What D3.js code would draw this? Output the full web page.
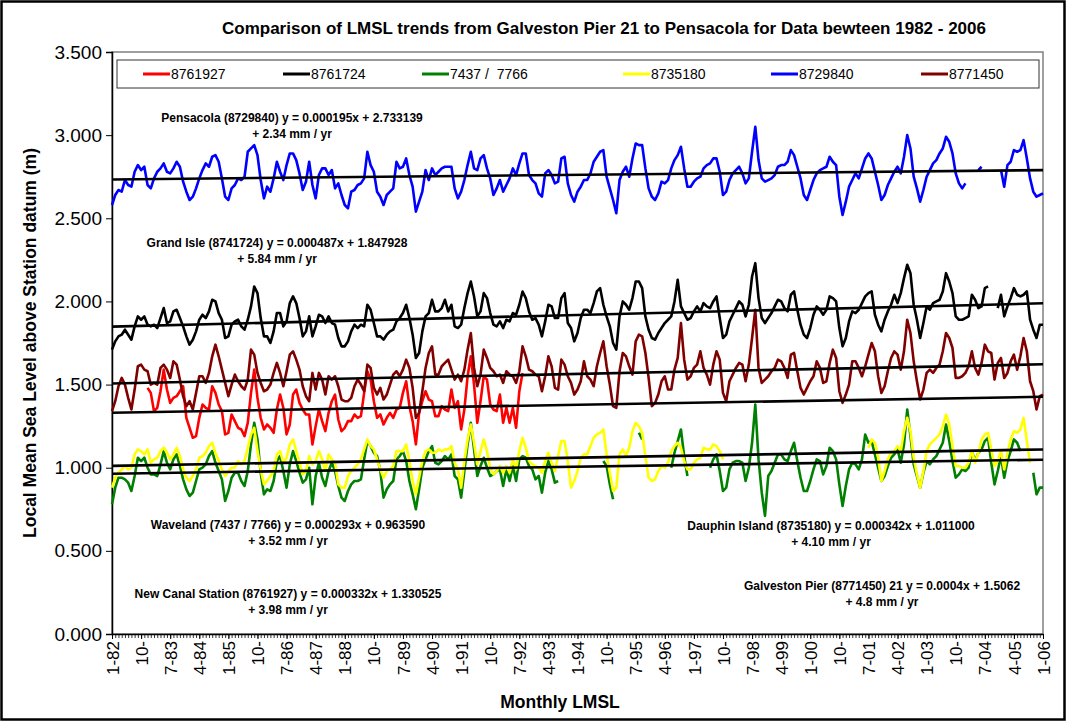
<!DOCTYPE html>
<html>
<head>
<meta charset="utf-8">
<script src="https://cdn.jsdelivr.net/npm/d3@7"></script>
<style>
  html, body { margin: 0; padding: 0; background: #fff; }
  svg { display: block; font-family: "Liberation Sans", Arial, sans-serif; }
</style>
</head>
<body>
<svg id="chart" width="1066" height="721"></svg>
<script>
const _ = null;

// ---------- DATA ----------
const seriesNames = ["8761927", "8761724", "7437 /  7766", "8735180", "8729840", "8771450"];
const seriesColors = ["#FF0000", "#000000", "#008000", "#FFFF00", "#0000FF", "#800000"];

const yTickValues = [0, 0.5, 1.0, 1.5, 2.0, 2.5, 3.0, 3.5];

const xTickLabels = ["1-82","10-","7-83","4-84","1-85","10-","7-86","4-87","1-88","10-","7-89","4-90",
  "1-91","10-","7-92","4-93","1-94","10-","7-95","4-96","1-97","10-","7-98","4-99","1-00","10-",
  "7-01","4-02","1-03","10-","7-04","4-05","1-06"];
const xTickLabelIndex = [0,9,18,27,36,45,54,63,72,81,90,99,108,117,126,135,144,153,162,171,180,189,
  198,207,216,225,234,243,252,261,270,279,288];

// New Canal Station (8761927) - monthly, Jan 1982 .. Jan 2006
const s8761927 = [
  _,_,_,_,_,_,_,_,_,_,_,1.48,
  1.45,1.34,1.36,1.46,1.59,1.47,1.39,1.42,1.43,1.46,1.49,1.30,
  1.24,1.18,1.19,1.30,1.38,1.36,1.35,1.49,1.45,1.38,1.34,1.20,
  1.21,1.32,1.28,1.24,1.23,1.19,1.27,1.45,1.59,1.42,1.30,1.23,
  1.26,1.24,1.21,1.35,1.44,1.36,1.20,1.26,1.44,1.47,1.39,1.35,
  1.32,1.32,1.14,1.25,1.35,1.28,1.22,1.33,1.40,1.44,1.29,1.22,
  1.24,1.28,1.28,1.32,1.30,1.31,1.45,1.58,1.53,1.40,1.30,1.32,
  1.26,1.30,1.33,1.30,1.35,1.36,1.45,1.52,1.37,1.28,1.14,1.33,
  1.40,1.46,1.41,1.40,1.31,1.31,1.37,1.35,1.34,1.47,1.36,1.40,
  1.23,1.35,1.55,1.67,1.50,1.27,1.40,1.55,1.53,1.38,1.35,1.34,
  1.44,1.27,1.36,1.27,1.36,1.24,1.46,1.57,_,_,_,_,
  _,_,_,_,_,_,_,_,_,_,_,_,
  _,_,_,_,_,_,_,_,_,_,_,_,
  _,_,_,_,_,_,_,_,_,_,_,_,
  _,_,_,_,_,_,_,_,_,_,_,_,
  _,_,_,_,_,_,_,_,_,_,_,_,
  _,_,_,_,_,_,_,_,_,_,_,_,
  _,_,_,_,_,_,_,_,_,_,_,_,
  _,_,_,_,_,_,_,_,_,_,_,_,
  _,_,_,_,_,_,_,_,_,_,_,_,
  _,_,_,_,_,_,_,_,_,_,_,_,
  _,_,_,_,_,_,_,_,_,_,_,_,
  _,_,_,_,_,_,_,_,_,_,_,_,
  _,_,_,_,_,_,_,_,_,_,_,_,
  _
];

// Grand Isle (8761724)
const s8761724 = [
  1.71,1.76,1.79,1.80,1.83,1.80,1.77,1.85,1.91,1.89,1.91,1.86,
  1.85,1.86,1.84,1.90,1.96,1.87,1.88,1.94,1.95,1.90,1.85,1.79,
  1.74,1.77,1.82,1.89,1.92,1.90,1.94,2.01,2.00,1.93,1.89,1.78,
  1.79,1.86,1.88,1.89,1.85,1.83,1.89,1.97,2.09,2.05,1.90,1.79,
  1.79,1.75,1.82,1.93,1.93,1.85,1.88,1.99,2.03,1.99,1.90,1.79,
  1.82,1.91,1.79,1.85,1.92,1.91,1.87,1.91,1.87,1.86,1.78,1.73,
  1.73,1.76,1.82,1.86,1.84,1.86,1.85,1.98,1.95,1.87,1.79,1.79,
  1.77,1.80,1.82,1.83,1.88,1.90,1.93,1.98,1.90,1.80,1.66,1.69,
  1.82,1.91,1.93,2.01,1.94,1.94,1.96,2.01,1.94,1.98,1.85,1.84,
  1.86,1.96,2.05,2.12,2.03,1.91,1.94,2.05,2.02,1.93,1.86,1.85,
  1.88,1.84,1.89,1.88,1.93,1.92,1.98,2.06,2.02,1.94,1.89,1.90,
  1.86,1.79,1.88,1.98,1.97,1.90,1.90,2.02,2.05,1.87,1.84,1.76,
  1.81,1.90,1.95,1.95,1.93,1.99,2.06,2.08,1.98,1.91,1.85,1.75,
  1.71,1.91,2.00,1.98,1.95,2.02,2.12,2.12,2.08,1.91,1.83,1.78,
  1.77,1.81,1.84,1.87,1.89,1.91,2.00,2.13,1.97,1.93,1.89,1.90,
  1.94,1.97,1.94,1.99,1.97,1.96,2.00,2.03,1.90,1.78,1.80,1.88,
  1.92,1.96,2.00,1.98,1.91,1.98,2.15,2.23,2.02,1.90,1.87,1.90,
  1.93,1.97,2.01,2.00,1.96,1.94,2.04,2.06,1.95,1.86,1.80,1.78,
  1.84,1.92,1.97,1.95,1.92,1.95,2.03,2.02,2.00,1.84,1.73,1.78,
  1.88,1.94,1.93,1.95,1.99,2.03,2.05,2.06,1.92,1.86,1.82,1.89,
  1.94,1.98,2.04,1.99,2.05,2.14,2.22,2.17,1.98,1.89,1.78,1.87,
  1.97,1.95,1.99,2.00,2.01,2.06,2.17,2.12,2.05,1.91,1.89,1.89,
  1.90,1.91,2.04,2.01,1.96,1.97,2.08,2.09,_,_,1.96,2.04,
  1.91,1.97,2.02,2.08,2.04,2.03,2.04,2.06,1.89,1.83,1.78,1.86,
  1.86
];

// Waveland (7437 / 7766)
const s7437_7766 = [
  0.78,0.88,0.94,0.94,0.93,0.91,0.86,0.95,1.06,1.04,1.06,1.00,
  0.96,0.96,0.95,1.02,1.10,1.03,0.99,1.05,1.08,1.01,0.93,0.87,
  0.83,0.85,0.92,0.99,1.00,1.02,1.07,1.10,1.03,0.98,0.93,0.80,
  0.86,0.94,0.97,0.97,0.92,0.89,0.98,1.14,1.27,1.17,0.97,0.84,
  0.87,0.86,0.92,1.04,1.07,0.98,0.88,1.02,1.10,1.04,0.97,0.91,
  0.93,1.00,0.78,0.95,1.03,0.94,0.89,0.98,1.03,0.98,0.89,0.82,
  0.80,0.86,0.90,0.92,0.92,0.93,1.05,1.16,1.13,1.09,1.07,0.98,
  0.82,0.87,0.90,0.92,1.05,1.07,1.10,1.04,0.92,0.84,0.75,0.87,
  1.00,1.05,1.10,1.13,1.03,1.02,1.04,1.07,1.05,1.08,0.95,0.93,
  0.82,0.98,1.14,1.27,1.11,0.95,1.01,1.06,1.00,0.95,0.96,0.98,
  0.99,0.89,0.99,0.92,1.01,0.92,1.05,1.07,1.06,1.01,0.99,0.93,
  0.95,0.85,0.97,1.04,0.99,0.91,0.92,_,_,_,_,_,
  _,_,_,_,_,_,_,_,1.04,1.01,0.90,0.81,
  _,_,_,_,_,_,_,1.21,1.17,_,_,_,
  _,_,_,_,_,1.00,1.09,1.16,1.23,1.07,0.95,_,
  _,_,_,_,_,1.00,1.05,1.08,0.98,0.86,0.88,0.99,
  1.03,1.04,1.04,1.03,0.92,1.00,1.15,1.38,1.05,0.85,0.71,0.95,
  0.98,1.03,1.08,1.08,1.05,1.04,1.10,1.15,1.04,0.94,0.86,0.86,
  0.92,0.99,1.05,1.04,0.96,1.01,1.12,1.10,1.05,0.90,0.77,0.89,
  0.99,1.03,1.02,0.99,1.05,1.20,1.15,1.16,1.08,1.00,0.92,0.95,
  1.01,1.06,1.08,1.11,1.03,1.14,1.35,1.19,1.02,0.95,0.88,0.97,
  1.04,1.02,1.05,1.07,1.11,1.15,1.26,1.16,1.04,0.94,0.96,0.99,
  0.98,1.00,1.10,1.04,1.09,1.11,1.16,1.18,1.03,0.90,0.98,1.07,
  0.94,1.04,1.10,1.17,1.15,1.10,_,_,_,0.97,0.84,0.88,
  0.88
];

// Dauphin Island (8735180)
const s8735180 = [
  0.88,0.94,0.97,0.99,1.01,0.99,1.00,1.08,1.11,1.10,1.08,1.11,
  1.03,1.05,1.06,1.10,1.12,1.09,1.05,1.08,1.12,1.07,0.99,0.94,
  0.92,0.95,0.99,1.06,1.07,1.09,1.13,1.15,1.09,1.04,0.99,0.95,
  0.98,1.00,1.00,1.04,1.02,1.04,1.12,1.20,1.24,1.10,0.99,0.90,
  0.92,0.95,0.98,1.08,1.10,1.03,1.06,1.14,1.17,1.10,1.03,0.96,
  0.98,1.07,1.02,1.04,1.10,1.05,0.98,1.08,1.05,1.03,0.90,0.88,
  0.88,0.95,0.98,1.00,1.02,1.05,1.11,1.17,1.13,1.11,1.05,0.99,
  0.94,0.98,0.99,1.01,1.10,1.10,1.10,1.14,1.04,0.92,0.84,0.94,
  1.04,1.10,1.11,1.09,1.09,1.11,1.10,1.11,1.11,1.13,1.03,0.99,
  0.88,1.04,1.17,1.26,1.15,1.02,1.10,1.17,1.10,1.00,0.96,0.98,
  1.01,0.97,1.01,0.97,1.05,0.99,1.10,1.18,1.12,1.04,1.02,1.01,
  1.00,0.97,1.04,1.09,1.03,0.98,1.07,1.16,1.16,1.04,0.88,0.92,
  0.98,1.06,1.08,1.08,1.13,1.18,1.20,1.21,1.23,1.08,0.97,0.86,
  0.88,1.08,1.11,1.07,1.12,1.22,1.27,1.25,1.21,1.07,0.94,0.92,
  0.93,0.98,1.01,1.00,1.03,1.10,1.13,1.15,1.12,1.04,0.99,0.99,
  1.03,1.05,1.06,1.12,1.11,1.11,1.14,1.13,1.10,1.05,_,_,
  _,_,_,_,_,_,_,_,_,_,_,_,
  _,_,_,_,_,_,_,_,_,_,_,_,
  _,_,_,_,_,_,_,_,_,_,_,_,
  _,_,_,_,_,_,1.12,1.17,1.15,1.06,0.92,0.98,
  1.05,1.09,1.10,1.13,1.10,1.22,1.30,1.22,1.06,0.96,0.88,0.98,
  1.10,1.14,1.16,1.18,1.20,1.25,1.32,1.26,1.13,1.01,1.01,1.00,
  1.00,1.03,1.10,1.03,1.09,1.17,1.20,1.21,1.11,1.01,1.04,1.10,
  0.99,1.09,1.17,1.22,1.21,1.23,1.30,1.16,1.03,_,_,_,
  _
];

// Pensacola (8729840)
const s8729840 = [
  2.58,2.64,2.67,2.66,2.73,2.70,2.69,2.78,2.82,2.79,2.81,2.70,
  2.68,2.74,2.78,2.80,2.83,2.78,2.77,2.80,2.84,2.81,2.72,2.66,
  2.61,2.63,2.68,2.74,2.79,2.83,2.81,2.87,2.88,2.84,2.74,2.63,
  2.61,2.68,2.70,2.74,2.73,2.75,2.90,2.92,2.94,2.88,2.73,2.62,
  2.69,2.66,2.74,2.84,2.78,2.73,2.82,2.89,2.89,2.85,2.77,2.67,
  2.72,2.84,2.70,2.62,2.76,2.80,2.80,2.76,2.79,2.68,2.71,2.64,
  2.58,2.56,2.66,2.67,2.70,2.71,2.74,2.90,2.82,2.78,2.66,2.63,
  2.58,2.64,2.66,2.68,2.84,2.80,2.81,2.86,2.76,2.69,2.54,2.60,
  2.66,2.79,2.73,2.80,2.76,2.78,2.80,2.81,2.81,2.81,2.68,2.62,
  2.66,2.73,2.82,2.90,2.80,2.79,2.86,2.88,2.80,2.74,2.64,2.68,
  2.73,2.66,2.70,2.74,2.80,2.76,2.83,2.89,2.89,2.76,2.73,2.71,
  2.65,2.63,2.77,2.79,2.76,2.71,2.72,2.86,2.87,2.71,2.64,2.60,
  2.66,2.69,2.73,2.73,2.77,2.84,2.87,2.90,2.91,2.75,2.68,2.61,
  2.53,2.73,2.78,2.81,2.75,2.86,2.95,2.94,2.94,2.80,2.68,2.63,
  2.61,2.65,2.72,2.71,2.73,2.80,2.85,2.88,2.93,2.80,2.69,2.69,
  2.72,2.74,2.75,2.80,2.82,2.83,2.86,2.86,2.78,2.64,2.66,2.73,
  2.77,2.79,2.81,2.77,2.71,2.74,2.90,3.05,2.85,2.74,2.72,2.73,
  2.74,2.76,2.81,2.82,2.82,2.84,2.91,2.88,2.81,2.74,2.64,2.61,
  2.67,2.73,2.77,2.79,2.80,2.81,2.87,2.84,2.82,2.63,2.52,2.60,
  2.69,2.73,2.77,2.74,2.80,2.86,2.89,2.86,2.78,2.70,2.61,2.64,
  2.70,2.74,2.78,2.81,2.77,2.87,3.00,2.92,2.75,2.68,2.60,2.67,
  2.75,2.79,2.83,2.85,2.89,2.92,2.99,2.96,2.89,2.77,2.71,2.68,
  2.71,_,_,_,2.79,2.81,_,_,_,_,_,2.79,
  2.69,2.82,2.84,2.91,2.90,2.91,2.97,2.86,2.74,2.66,2.63,2.64,
  2.65
];

// Galveston Pier 21 (8771450)
const s8771450 = [
  1.34,1.40,1.49,1.54,1.50,1.42,1.35,1.47,1.61,1.62,1.59,1.58,
  1.50,1.51,1.50,1.60,1.62,1.59,1.54,1.64,1.62,1.53,1.43,1.37,
  1.40,1.35,1.45,1.55,1.55,1.51,1.57,1.67,1.74,1.67,1.59,1.51,
  1.43,1.50,1.56,1.52,1.49,1.47,1.53,1.71,1.68,1.57,1.51,1.46,
  1.47,1.50,1.57,1.63,1.57,1.49,1.58,1.68,1.70,1.65,1.59,1.49,
  1.43,1.40,1.57,1.47,1.57,1.53,1.44,1.55,1.53,1.55,1.49,1.41,
  1.40,1.40,1.42,1.49,1.53,1.50,1.46,1.62,1.60,1.48,1.44,1.48,
  1.41,1.44,1.50,1.56,1.58,1.55,1.59,1.65,1.60,1.48,1.30,1.33,
  1.46,1.60,1.69,1.73,1.56,1.56,1.61,1.63,1.65,1.59,1.53,1.56,
  1.52,1.59,1.71,1.81,1.60,1.49,1.56,1.71,1.66,1.60,1.58,1.55,
  1.56,1.51,1.58,1.56,1.55,1.51,1.58,1.73,1.67,1.59,1.58,1.56,
  1.55,1.46,1.55,1.67,1.61,1.48,1.47,1.65,1.62,1.55,1.51,1.44,
  1.47,1.52,1.64,1.55,1.53,1.49,1.61,1.69,1.76,1.61,1.50,1.37,
  1.36,1.58,1.69,1.67,1.61,1.56,1.76,1.80,1.79,1.69,1.54,1.37,
  1.39,1.44,1.52,1.55,1.47,1.47,1.59,1.66,1.87,1.65,1.53,1.55,
  1.60,1.62,1.70,1.60,1.56,1.50,1.62,1.70,1.65,1.45,1.40,1.52,
  1.56,1.60,1.63,1.62,1.52,1.62,1.78,1.95,1.60,1.51,1.53,1.55,
  1.58,1.60,1.65,1.64,1.60,1.54,1.68,1.69,1.58,1.48,1.44,1.48,
  1.52,1.55,1.64,1.60,1.51,1.52,1.63,1.71,1.66,1.46,1.39,1.44,
  1.50,1.64,1.64,1.60,1.55,1.61,1.68,1.75,1.70,1.55,1.45,1.49,
  1.58,1.66,1.70,1.68,1.59,1.70,1.89,1.81,1.64,1.52,1.41,1.47,
  1.57,1.59,1.57,1.60,1.62,1.70,1.81,1.78,1.72,1.54,1.54,1.55,
  1.57,1.61,1.70,1.60,1.56,1.63,1.74,1.70,1.69,1.53,1.63,1.66,
  1.54,1.57,1.64,1.68,1.59,1.67,1.78,1.70,1.52,1.46,1.35,1.43,
  1.44
];

// Linear trend lines shown on the chart (y = slope * x + intercept, x = month number)
const trendSlopes     = [0.000332, 0.000487, 0.000293, 0.000342, 0.000195, 0.0004];
const trendIntercepts = [1.330525, 1.847928, 0.963590, 1.011000, 2.733139, 1.5062];

const annotationLine1 = [
  "Pensacola (8729840) y = 0.000195x + 2.733139",
  "Grand Isle (8741724) y = 0.000487x + 1.847928",
  "Waveland (7437 / 7766) y = 0.000293x + 0.963590",
  "New Canal Station (8761927) y = 0.000332x + 1.330525",
  "Dauphin Island (8735180) y = 0.000342x + 1.011000",
  "Galveston Pier (8771450) 21 y = 0.0004x + 1.5062"
];
const annotationLine2 = [
  "+ 2.34 mm / yr", "+ 5.84 mm / yr", "+ 3.52 mm / yr",
  "+ 3.98 mm / yr", "+ 4.10 mm / yr", "+ 4.8 mm / yr"
];

const allSeries = [s8761927, s8761724, s7437_7766, s8735180, s8729840, s8771450];

// ---------- LAYOUT ----------
const W = 1066, H = 721;
const plot = { left: 112, right: 1043, top: 52, bottom: 634 };
const N = s8729840.length;
const FONT = '"Liberation Sans", Arial, sans-serif';

const svg = d3.select("#chart");
svg.append("rect").attr("x", 0).attr("y", 0).attr("width", W).attr("height", H).attr("fill", "#fff");
svg.append("rect").attr("x", 1.5).attr("y", 1.5).attr("width", W - 3).attr("height", H - 3)
  .attr("fill", "none").attr("stroke", "#000").attr("stroke-width", 2.5);

const x = d3.scaleLinear().domain([0, N - 1]).range([plot.left, plot.right]);
const y = d3.scaleLinear().domain([0, 3.5]).range([plot.bottom, plot.top]);

// plot area frame (top & right gray)
svg.append("rect").attr("x", plot.left).attr("y", plot.top)
  .attr("width", plot.right - plot.left).attr("height", plot.bottom - plot.top)
  .attr("fill", "none").attr("stroke", "#808080").attr("stroke-width", 1.5);

// Title
svg.append("text").attr("x", 604).attr("y", 34).attr("text-anchor", "middle")
  .style("font-family", FONT).style("font-weight", "bold").style("font-size", "17px")
  .text("Comparison of LMSL trends from Galveston Pier 21 to Pensacola for Data bewteen 1982 - 2006");

// Y axis
const yAxis = svg.append("g").attr("transform", `translate(${plot.left},0)`)
  .call(d3.axisLeft(y).tickValues(yTickValues).tickFormat(d3.format(".3f")).tickSize(6).tickPadding(4));
yAxis.select(".domain").attr("stroke", "#000").attr("stroke-width", 1.5);
yAxis.selectAll(".tick line").attr("stroke", "#000").attr("stroke-width", 1);
yAxis.selectAll(".tick text").style("font-family", FONT).style("font-size", "19px").attr("fill", "#000");

// X axis: minor ticks per month
const xMinor = svg.append("g").attr("transform", `translate(0,${plot.bottom})`)
  .call(d3.axisBottom(x).tickValues(d3.range(N)).tickFormat("").tickSize(4).tickSizeOuter(0));
xMinor.select(".domain").attr("stroke", "#000").attr("stroke-width", 1.5);
xMinor.selectAll(".tick line").attr("stroke", "#000").attr("stroke-width", 0.8);

// X axis labels
const xLab = svg.append("g").attr("transform", `translate(0,${plot.bottom})`)
  .call(d3.axisBottom(x).tickValues(xTickLabelIndex)
    .tickFormat((d, i) => xTickLabels[i]).tickSize(5).tickSizeOuter(0));
xLab.select(".domain").remove();
xLab.selectAll(".tick line").attr("stroke", "#000");
xLab.selectAll(".tick text")
  .attr("transform", "rotate(-90)")
  .attr("x", -7).attr("y", 0).attr("dy", "0.36em")
  .style("text-anchor", "end")
  .style("font-family", FONT).style("font-size", "17px").attr("fill", "#000");

// Axis titles
svg.append("text").attr("x", 560).attr("y", 708).attr("text-anchor", "middle")
  .style("font-family", FONT).style("font-weight", "bold").style("font-size", "17.5px")
  .text("Monthly LMSL");
svg.append("text").attr("transform", "translate(36,343) rotate(-90)").attr("text-anchor", "middle")
  .style("font-family", FONT).style("font-weight", "bold").style("font-size", "17.5px")
  .text("Local Mean Sea Level above Station datum (m)");

// Series lines
const lineGen = d3.line()
  .defined(d => d.v !== null)
  .x(d => x(d.i))
  .y(d => y(d.v));

const gSeries = svg.append("g");
allSeries.forEach((s, k) => {
  gSeries.append("path")
    .datum(s.map((v, i) => ({ i, v })))
    .attr("fill", "none")
    .attr("stroke", seriesColors[k])
    .attr("stroke-width", 2.6)
    .attr("stroke-linejoin", "round")
    .attr("d", lineGen);
});

// Trend lines
const gTrend = svg.append("g");
trendSlopes.forEach((m, k) => {
  const pts = [0, N - 1].map(i => ({ i, v: m * (i + 1) + trendIntercepts[k] }));
  gTrend.append("path").datum(pts)
    .attr("fill", "none").attr("stroke", "#000").attr("stroke-width", 2.6)
    .attr("d", lineGen);
});

// Legend
const legendBox = { x: 117, y: 60, w: 922, h: 28 };
svg.append("rect").attr("x", legendBox.x).attr("y", legendBox.y)
  .attr("width", legendBox.w).attr("height", legendBox.h)
  .attr("fill", "#fff").attr("stroke", "#333").attr("stroke-width", 1);
const legendLineX = [143, 283, 422, 623, 771, 921];
seriesNames.forEach((name, k) => {
  const lx = legendLineX[k], ly = legendBox.y + legendBox.h / 2;
  svg.append("line").attr("x1", lx).attr("x2", lx + 27).attr("y1", ly).attr("y2", ly)
    .attr("stroke", seriesColors[k]).attr("stroke-width", 3);
  svg.append("text").attr("x", lx + 28).attr("y", ly + 5)
    .style("font-family", FONT).style("font-size", "14px").style("white-space", "pre")
    .attr("xml:space", "preserve")
    .text(name);
});

// Annotations (trend equations)
const annPos = [[292, 122], [277, 247], [288, 529], [288, 598], [831, 530], [882, 590]];
annotationLine1.forEach((t, k) => {
  const [ax, ay] = annPos[k];
  svg.append("text").attr("x", ax).attr("y", ay).attr("text-anchor", "middle")
    .style("font-family", FONT).style("font-weight", "bold").style("font-size", "12px").text(t);
  svg.append("text").attr("x", ax).attr("y", ay + 16).attr("text-anchor", "middle")
    .style("font-family", FONT).style("font-weight", "bold").style("font-size", "12px")
    .text(annotationLine2[k]);
});
</script>
</body>
</html>
